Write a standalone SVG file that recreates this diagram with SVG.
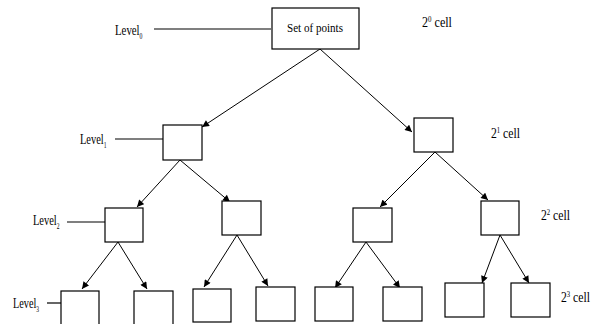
<svg xmlns="http://www.w3.org/2000/svg" width="601" height="324" viewBox="0 0 601 324">
<defs>
<marker id="ah" viewBox="0 0 10 10" refX="10" refY="5" markerWidth="8" markerHeight="7" markerUnits="userSpaceOnUse" orient="auto">
<path d="M0,0 L10,5 L0,10 z" fill="#000"/>
</marker>
</defs>
<style>
.box{fill:#fff;stroke:#000;stroke-width:1.2}
.edge{stroke:#000;stroke-width:1;fill:none;marker-end:url(#ah)}
.lead{stroke:#000;stroke-width:1.2;fill:none}
.t{font-family:"Liberation Serif","Times New Roman",serif;fill:#000}
.lv{font-size:15px}
.sub{font-size:8px}
.c{font-size:14px}
.sup{font-size:8px}
</style>
<rect width="601" height="324" fill="#fff"/>

<g id="connectors">
<line class="edge" x1="320" y1="49" x2="202" y2="127"/>
<line class="edge" x1="320" y1="49" x2="412" y2="132"/>
<line class="edge" x1="180" y1="160" x2="137" y2="207"/>
<line class="edge" x1="180" y1="160" x2="230" y2="202"/>
<line class="edge" x1="435" y1="152" x2="380" y2="207"/>
<line class="edge" x1="435" y1="152" x2="488" y2="200"/>
<line class="edge" x1="118" y1="242" x2="82" y2="289"/>
<line class="edge" x1="118" y1="242" x2="147" y2="289"/>
<line class="edge" x1="237" y1="235" x2="204" y2="287"/>
<line class="edge" x1="237" y1="235" x2="268" y2="286"/>
<line class="edge" x1="366" y1="242" x2="335" y2="288"/>
<line class="edge" x1="366" y1="242" x2="400" y2="288"/>
<line class="edge" x1="500" y1="235" x2="482" y2="283"/>
<line class="edge" x1="500" y1="235" x2="529" y2="283"/>
<line class="lead" x1="154" y1="29" x2="271" y2="29"/>
<line class="lead" x1="115" y1="139" x2="163" y2="139"/>
<line class="lead" x1="67" y1="222" x2="105" y2="222"/>
<line class="lead" x1="47" y1="303" x2="61" y2="303"/>
</g>

<g id="level-labels">
<text class="t lv" x="115" y="35" textLength="27.5" lengthAdjust="spacingAndGlyphs">Level<tspan class="sub" dy="4">0</tspan></text>
<text class="t lv" x="80" y="144" textLength="26.5" lengthAdjust="spacingAndGlyphs">Level<tspan class="sub" dy="4">1</tspan></text>
<text class="t lv" x="33" y="225" textLength="26.5" lengthAdjust="spacingAndGlyphs">Level<tspan class="sub" dy="4">2</tspan></text>
<text class="t lv" x="13" y="308" textLength="26" lengthAdjust="spacingAndGlyphs">Level<tspan class="sub" dy="4">3</tspan></text>
</g>

<g id="cell-labels">
<text class="t c" x="422" y="27" textLength="30" lengthAdjust="spacingAndGlyphs">2<tspan class="sup" dy="-5">0</tspan><tspan dy="5"> cell</tspan></text>
<text class="t c" x="491" y="138" textLength="29" lengthAdjust="spacingAndGlyphs">2<tspan class="sup" dy="-5">1</tspan><tspan dy="5"> cell</tspan></text>
<text class="t c" x="541" y="220" textLength="29" lengthAdjust="spacingAndGlyphs">2<tspan class="sup" dy="-5">2</tspan><tspan dy="5"> cell</tspan></text>
<text class="t c" x="561" y="302" textLength="29" lengthAdjust="spacingAndGlyphs">2<tspan class="sup" dy="-5">3</tspan><tspan dy="5"> cell</tspan></text>
</g>

<g id="root">
<rect class="box" x="272" y="8" width="87" height="41"/>
<text class="t" x="287" y="32" font-size="12.5" textLength="56" lengthAdjust="spacingAndGlyphs">Set of points</text>
</g>
<g id="n1L"><rect class="box" x="163" y="125" width="39" height="35"/></g>
<g id="n1R"><rect class="box" x="414" y="118" width="39" height="34"/></g>
<g id="n2A"><rect class="box" x="105" y="208" width="38" height="34"/></g>
<g id="n2B"><rect class="box" x="222" y="201" width="39" height="34"/></g>
<g id="n2C"><rect class="box" x="353" y="208" width="39" height="34"/></g>
<g id="n2D"><rect class="box" x="481" y="201" width="38" height="34"/></g>
<g id="n3a"><rect class="box" x="61" y="291" width="38" height="36"/></g>
<g id="n3b"><rect class="box" x="134" y="291" width="39" height="36"/></g>
<g id="n3c"><rect class="box" x="193" y="289" width="38" height="33"/></g>
<g id="n3d"><rect class="box" x="256" y="287" width="39" height="34"/></g>
<g id="n3e"><rect class="box" x="315" y="287" width="38" height="34"/></g>
<g id="n3f"><rect class="box" x="383" y="287" width="39" height="34"/></g>
<g id="n3g"><rect class="box" x="445" y="283" width="39" height="34"/></g>
<g id="n3h"><rect class="box" x="511" y="283" width="39" height="34"/></g>
</svg>
